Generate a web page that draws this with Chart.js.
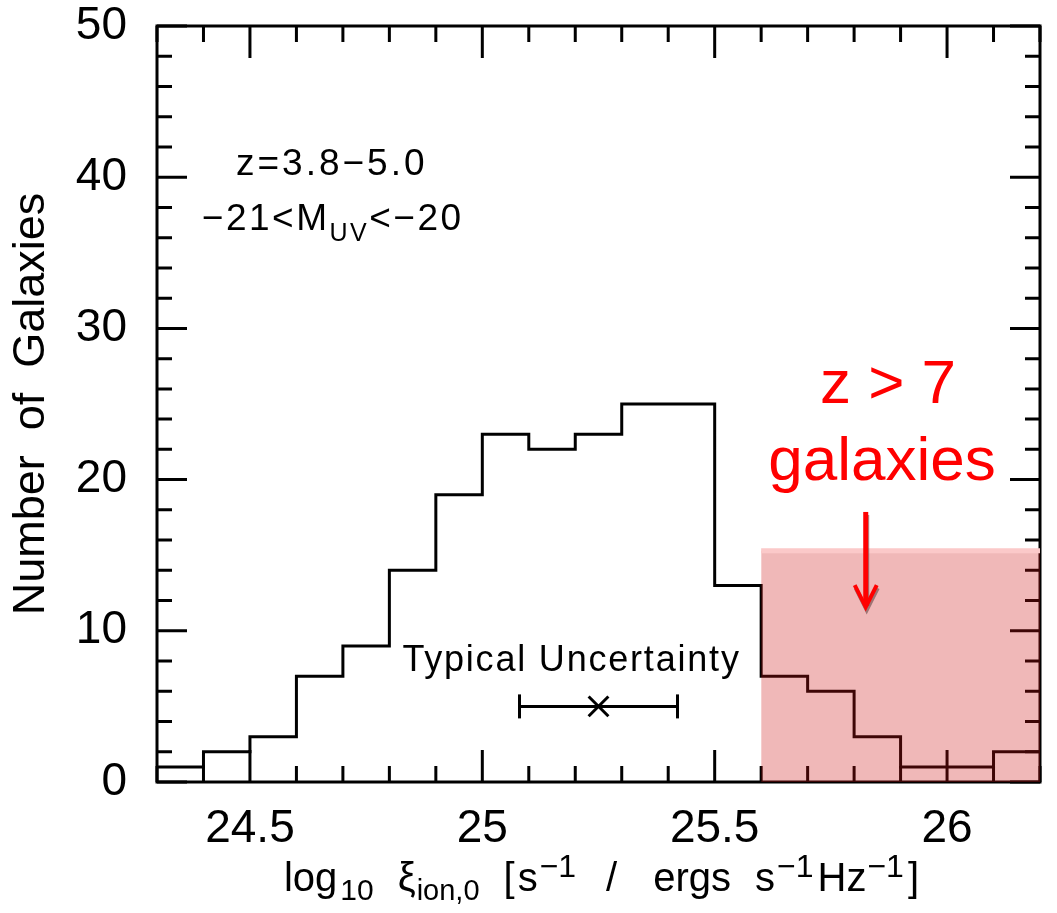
<!DOCTYPE html>
<html><head><meta charset="utf-8">
<script src="https://cdn.jsdelivr.net/npm/chart.js@4.4.0/dist/chart.umd.min.js"></script>
<style>html,body{margin:0;padding:0;background:#fff;}</style>
</head><body>
<canvas id="c" width="1057" height="913"></canvas>
<script>
// ---- data ----
const binEdges = [24.3,24.4,24.5,24.6,24.7,24.8,24.9,25.0,25.1,25.2,25.3,25.4,25.5,25.6,25.7,25.8,25.9,26.0,26.1,26.2];
const binCounts = [1,2,3,7,9,14,19,23,22,23,25,25,13,7,6,3,1,1,2];
const xTickLabels = ['24.5','25','25.5','26'];
const yTickLabels = ['0','10','20','30','40','50'];
const uncertaintyCenter = [25.25, 5];
const uncertaintyHalfWidth = 0.17;
const highzRange = [25.6, 26.2];
const highzTop = [15.3, 15.3];
const arrowX = 25.825, arrowFromY = 17.86, arrowToY = 11.57;

const FONT = "'Liberation Sans', Arial, Helvetica, sans-serif";

const histData = binEdges.map((e, i) => ({x: e, y: binCounts[Math.min(i, binCounts.length - 1)]}));
const shadeData = highzRange.map((x, i) => ({x: x, y: highzTop[i]}));
const errData = [
  {x: uncertaintyCenter[0] - uncertaintyHalfWidth, y: uncertaintyCenter[1]},
  {x: uncertaintyCenter[0] + uncertaintyHalfWidth, y: uncertaintyCenter[1]}
];
const centerData = [{x: uncertaintyCenter[0], y: uncertaintyCenter[1]}];

function labelFor(list, v) {
  const l = list.find(s => Math.abs(parseFloat(s) - v) < 1e-6);
  return l === undefined ? '' : l;
}

function drawRich(ctx, segs, cx, baseline, spacing) {
  ctx.save();
  ctx.letterSpacing = (spacing || 0) + 'px';
  let total = 0;
  const widths = segs.map(s => {
    ctx.font = s.s + 'px ' + FONT;
    const w = ctx.measureText(s.t).width;
    total += (s.g || 0) + w;
    return w;
  });
  let x = cx - total / 2;
  ctx.textAlign = 'left';
  ctx.textBaseline = 'alphabetic';
  segs.forEach((s, i) => {
    x += (s.g || 0);
    ctx.font = s.s + 'px ' + FONT;
    ctx.fillStyle = s.c || '#000';
    ctx.fillText(s.t, x, baseline + (s.dy || 0));
    x += widths[i];
  });
  ctx.restore();
}

function noPad(s) { s.paddingTop = 0; s.paddingBottom = 0; s.paddingLeft = 0; s.paddingRight = 0; }

const framePlugin = {
  id: 'frame',
  beforeDatasetsDraw(chart) {
    const {ctx, chartArea: a, scales: {x, y}} = chart;
    ctx.save();
    ctx.strokeStyle = '#000';
    ctx.lineWidth = 3;
    ctx.lineCap = 'butt';
    ctx.beginPath();
    x.ticks.forEach(t => {
      const px = x.getPixelForValue(t.value);
      const len = labelFor(xTickLabels, t.value) ? 32 : 16;
      ctx.moveTo(px, a.bottom); ctx.lineTo(px, a.bottom - len);
      ctx.moveTo(px, a.top); ctx.lineTo(px, a.top + len);
    });
    y.ticks.forEach(t => {
      const py = y.getPixelForValue(t.value);
      const len = labelFor(yTickLabels, t.value) ? 30 : 15;
      ctx.moveTo(a.left, py); ctx.lineTo(a.left + len, py);
      ctx.moveTo(a.right, py); ctx.lineTo(a.right - len, py);
    });
    ctx.stroke();
    ctx.lineWidth = 3;
    ctx.strokeRect(a.left, a.top, a.right - a.left, a.bottom - a.top);
    ctx.restore();
  },
  afterDatasetsDraw(chart) {
    const {ctx, chartArea: a, scales: {x, y}} = chart;
    // arrow
    const ax = x.getPixelForValue(arrowX);
    const y1 = y.getPixelForValue(arrowFromY);
    const y2 = y.getPixelForValue(arrowToY);
    const drawArrow = (dx, dy, col) => {
      ctx.save();
      ctx.strokeStyle = col;
      ctx.lineWidth = 5;
      ctx.lineCap = 'butt';
      ctx.lineJoin = 'miter';
      ctx.beginPath();
      ctx.moveTo(ax + dx, y1 + dy); ctx.lineTo(ax + dx, y2 - 4 + dy);
      ctx.stroke();
      ctx.lineWidth = 4;
      ctx.beginPath();
      ctx.moveTo(ax - 11 + dx, y2 - 22 + dy); ctx.lineTo(ax + dx, y2 + dy); ctx.lineTo(ax + 11 + dx, y2 - 22 + dy);
      ctx.stroke();
      ctx.restore();
    };
    drawArrow(1, 3, 'rgba(90,60,60,0.55)');
    drawArrow(0, 0, '#ff0000');

    // annotations
    drawRich(ctx, [{t: 'z > 7', s: 62, c: '#ff0000'}], x.getPixelForValue(25.873), y.getPixelForValue(25.07), 0);
    drawRich(ctx, [{t: 'galaxies', s: 62, c: '#ff0000'}], x.getPixelForValue(25.86), y.getPixelForValue(19.97), 0);
    drawRich(ctx, [{t: 'z=3.8\u22125.0', s: 37}], x.getPixelForValue(24.676), y.getPixelForValue(40.15), 3);
    drawRich(ctx, [{t: '\u221221<M', s: 37}, {t: 'UV', s: 25, dy: 11}, {t: '<\u221220', s: 37}], x.getPixelForValue(24.678), y.getPixelForValue(36.5), 2.5);
    drawRich(ctx, [{t: 'Typical Uncertainty', s: 36}], x.getPixelForValue(25.192), y.getPixelForValue(7.34), 1.8);

    // x axis title
    drawRich(ctx, [
      {t: 'log', s: 40},
      {t: '10', s: 30, dy: 9, g: 3},
      {t: '\u03be', s: 40, g: 24},
      {t: 'ion,0', s: 29, dy: 9, g: 1},
      {t: '[', s: 40, g: 24},
      {t: 's', s: 40, g: 3},
      {t: '\u22121', s: 32, dy: -14, g: 2},
      {t: '/', s: 40, g: 30},
      {t: 'ergs', s: 40, g: 36},
      {t: 's', s: 40, g: 24},
      {t: '\u22121', s: 32, dy: -14, g: 2},
      {t: 'Hz', s: 40, g: 4},
      {t: '\u22121', s: 32, dy: -14, g: 1},
      {t: ']', s: 40, g: 4}
    ], (a.left + a.right) / 2 + 3, 891, 0);
  }
};

new Chart(document.getElementById('c'), {
  type: 'line',
  data: {
    datasets: [
      {
        label: 'z>7 region', data: shadeData, order: 0,
        fill: 'origin', backgroundColor: 'rgba(205,20,20,0.30)',
        borderColor: '#fbc9c9', borderWidth: 5, pointRadius: 0, tension: 0
      },
      {
        label: 'histogram', data: histData, order: 2, stepped: true,
        borderColor: '#000', borderWidth: 3, pointRadius: 0, fill: false
      },
      {
        label: 'uncertainty', data: errData, order: 1,
        borderColor: '#000', borderWidth: 3, fill: false,
        pointStyle: 'line', rotation: 90, pointRadius: 12, pointBorderWidth: 3,
        pointBorderColor: '#000'
      },
      {
        label: 'center', data: centerData, order: 1, showLine: false,
        pointStyle: 'crossRot', pointRadius: 14, pointBorderWidth: 3,
        pointBorderColor: '#000', borderColor: '#000'
      }
    ]
  },
  options: {
    responsive: false,
    animation: false,
    devicePixelRatio: 1,
    layout: {padding: {top: 26, right: 10, left: 0, bottom: 0}},
    plugins: {legend: {display: false}, tooltip: {enabled: false}},
    scales: {
      x: {
        type: 'linear', min: 24.3, max: 26.2,
        grid: {display: false, drawTicks: false}, border: {display: false},
        ticks: {
          stepSize: 0.1, autoSkip: false, maxRotation: 0, padding: 20,
          color: '#000', font: {size: 46, family: FONT},
          callback: v => labelFor(xTickLabels, v)
        },
        afterFit: s => { s.height = 131; noPad(s); }
      },
      y: {
        type: 'linear', min: 0, max: 50,
        grid: {display: false, drawTicks: false}, border: {display: false},
        ticks: {
          stepSize: 2, autoSkip: false, padding: 30,
          color: '#000', font: {size: 46, family: FONT},
          callback: v => labelFor(yTickLabels, v)
        },
        title: {display: true, text: 'Number  of  Galaxies', color: '#000',
                font: {size: 45, family: FONT}, padding: {top: 5, bottom: 0}},
        afterFit: s => { s.width = 157; noPad(s); }
      }
    }
  },
  plugins: [framePlugin]
});
</script>
</body></html>
